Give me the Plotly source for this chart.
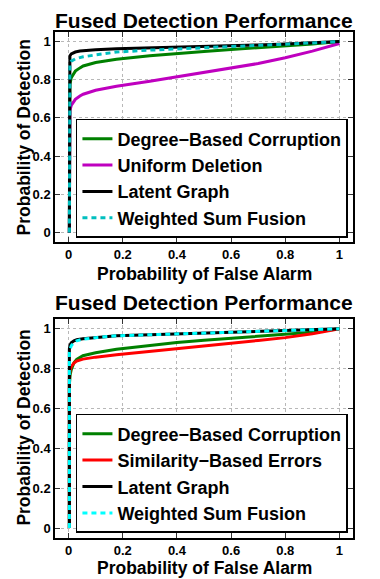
import plotly.graph_objects as go

# ---------------- data ----------------
fpr_top = [0.003, 0.003, 0.005, 0.01, 0.025, 0.042, 0.054, 0.1, 0.177, 0.3, 0.4, 0.5, 0.6, 0.7, 0.8, 0.9, 1.0]
degree_top = [0.0, 0.68, 0.775, 0.81, 0.845, 0.862, 0.872, 0.89, 0.907, 0.925, 0.938, 0.948, 0.958, 0.967, 0.976, 0.987, 1.0]
uniform_top = [0.0, 0.60, 0.64, 0.665, 0.697, 0.715, 0.724, 0.745, 0.766, 0.792, 0.815, 0.838, 0.86, 0.885, 0.915, 0.95, 0.99]
latent_top = [0.0, 0.90, 0.925, 0.935, 0.945, 0.95, 0.952, 0.957, 0.962, 0.966, 0.97, 0.974, 0.978, 0.982, 0.987, 0.993, 1.0]
wsf_top = [0.0, 0.86, 0.885, 0.897, 0.909, 0.916, 0.92, 0.93, 0.945, 0.955, 0.962, 0.968, 0.974, 0.98, 0.986, 0.993, 1.0]

fpr_bot = [0.003, 0.003, 0.006, 0.01, 0.02, 0.03, 0.053, 0.1, 0.177, 0.3, 0.4, 0.5, 0.6, 0.7, 0.8, 0.9, 1.0]
degree_bot = [0.0, 0.72, 0.77, 0.795, 0.83, 0.847, 0.865, 0.88, 0.898, 0.918, 0.932, 0.943, 0.953, 0.962, 0.971, 0.983, 1.0]
similarity_bot = [0.0, 0.76, 0.795, 0.81, 0.828, 0.838, 0.848, 0.858, 0.87, 0.886, 0.9, 0.914, 0.928, 0.942, 0.956, 0.975, 1.0]
latent_bot = [0.0, 0.90, 0.92, 0.93, 0.94, 0.945, 0.95, 0.957, 0.965, 0.97, 0.974, 0.978, 0.982, 0.986, 0.99, 0.995, 1.0]
wsf_bot = [0.0, 0.88, 0.90, 0.915, 0.932, 0.94, 0.948, 0.956, 0.965, 0.97, 0.974, 0.978, 0.982, 0.986, 0.99, 0.995, 1.0]

ticks = [0, 0.2, 0.4, 0.6, 0.8, 1]
tick_text = ["0", "0.2", "0.4", "0.6", "0.8", "1"]

title_text = "Fused Detection Performance"
xlabel = "Probability of False Alarm"
ylabel = "Probability of Detection"

names_top = ["Degree\u2212Based Corruption", "Uniform Deletion", "Latent Graph", "Weighted Sum Fusion"]
names_bot = ["Degree\u2212Based Corruption", "Similarity\u2212Based Errors", "Latent Graph", "Weighted Sum Fusion"]

# ---------------- figure ----------------
FONT = "Liberation Sans, Arial, Helvetica, sans-serif"
LW = 3

fig = go.Figure()

top_series = [degree_top, uniform_top, latent_top, wsf_top]
top_styles = [("#008000", "solid"), ("#BF00BF", "solid"), ("#000000", "solid"), ("#00BFBF", "5px,4px")]
for name, ys, (col, dash) in zip(names_top, top_series, top_styles):
    fig.add_trace(go.Scatter(x=fpr_top, y=ys, mode="lines", name=name,
                             line=dict(color=col, width=LW, dash=dash),
                             xaxis="x", yaxis="y", legend="legend"))

bot_series = [degree_bot, similarity_bot, latent_bot, wsf_bot]
bot_styles = [("#008000", "solid"), ("#FF0000", "solid"), ("#000000", "solid"), ("#00FFFF", "5px,4px")]
for name, ys, (col, dash) in zip(names_bot, bot_series, bot_styles):
    fig.add_trace(go.Scatter(x=fpr_bot, y=ys, mode="lines", name=name,
                             line=dict(color=col, width=LW, dash=dash),
                             xaxis="x2", yaxis="y2", legend="legend2"))

axis_common = dict(
    range=[-0.05, 1.05], tickmode="array", tickvals=ticks, ticktext=tick_text,
    ticks="inside", ticklen=5, tickwidth=1, tickcolor="#333333",
    showline=True, linecolor="black", linewidth=1.5, mirror="ticks",
    showgrid=True, gridcolor="#b8b8b8", griddash="dot", gridwidth=1,
    zeroline=False, fixedrange=True, automargin=False,
    tickfont=dict(family=FONT, size=13, color="black", weight="bold"),
)

top_dom = [0.585, 1.0]
bot_dom = [0.0, 0.433]

# The page body adds an 8px offset, so the figure is 8px smaller than the window.
fig.update_layout(
    width=372, height=571, autosize=False,
    margin=dict(l=47, r=27, t=24, b=41, autoexpand=False),
    paper_bgcolor="white", plot_bgcolor="white",
    xaxis=dict(axis_common, anchor="y", domain=[0, 1]),
    yaxis=dict(axis_common, anchor="x", domain=top_dom),
    xaxis2=dict(axis_common, anchor="y2", domain=[0, 1]),
    yaxis2=dict(axis_common, anchor="x2", domain=bot_dom),
    legend=dict(x=0.983, xanchor="right", y=0.593, yanchor="bottom",
                bgcolor="white", bordercolor="black", borderwidth=1.5,
                font=dict(family=FONT, size=18, color="black", weight="bold"),
                itemwidth=30, tracegroupgap=0),
    legend2=dict(x=0.983, xanchor="right", y=0.0099, yanchor="bottom",
                 bgcolor="white", bordercolor="black", borderwidth=1.5,
                 font=dict(family=FONT, size=18, color="black", weight="bold"),
                 itemwidth=30, tracegroupgap=0),
    showlegend=True,
)

title_font = dict(family=FONT, size=21, color="black", weight="bold")
label_font = dict(family=FONT, size=17.5, color="black", weight="bold")

annos = [
    dict(text=title_text, x=0.5, y=1.0237, font=title_font),
    dict(text=title_text, x=0.5, y=0.466, font=title_font),
    dict(text=xlabel, x=0.5, y=0.5217, font=label_font),
    dict(text=xlabel, x=0.5, y=-0.0593, font=label_font),
    dict(text=ylabel, x=-0.1026, y=0.7925, font=label_font, textangle=-90),
    dict(text=ylabel, x=-0.1026, y=0.219, font=label_font, textangle=-90),
]
for a in annos:
    fig.add_annotation(xref="paper", yref="paper", showarrow=False, borderpad=0,
                       xanchor="center", yanchor="middle", **a)

fig.write_html("out.html")
